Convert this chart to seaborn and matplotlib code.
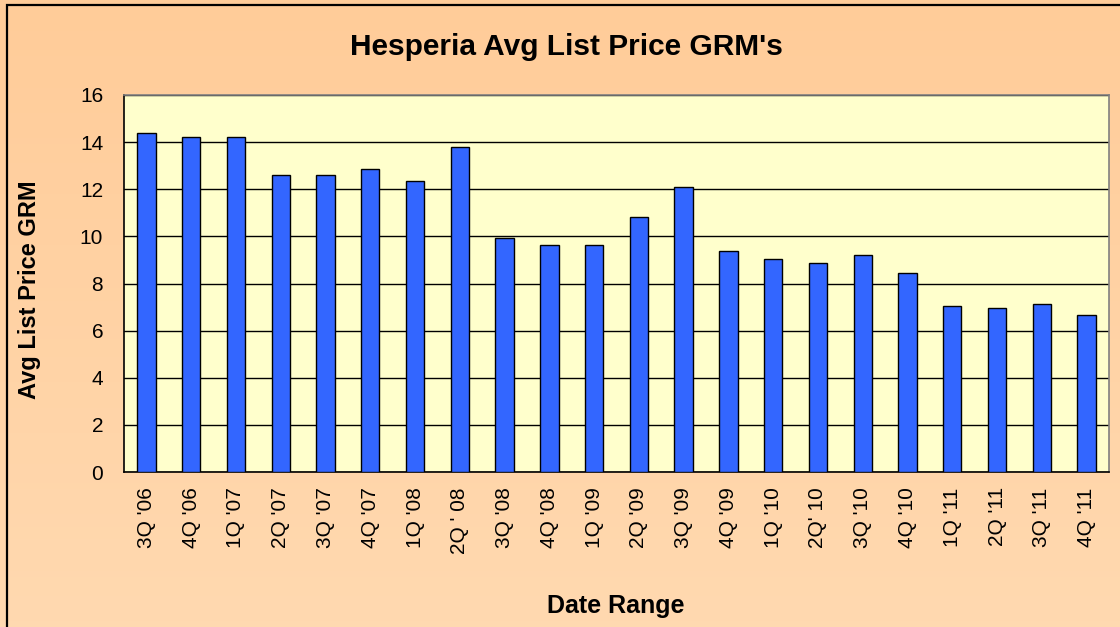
import numpy as np
import pandas as pd
import seaborn as sns
import matplotlib.pyplot as plt
from matplotlib.colors import LinearSegmentedColormap
from matplotlib.patches import Rectangle

quarters = ["3Q '06", "4Q '06", "1Q '07", "2Q '07", "3Q '07", "4Q '07", "1Q '08",
            "2Q ' 08", "3Q '08", "4Q '08", "1Q '09", "2Q '09", "3Q '09", "4Q '09",
            "1Q '10", "2Q' 10", "3Q '10", "4Q '10", "1Q '11", "2Q '11", "3Q '11", "4Q '11"]
grm = [14.4, 14.23, 14.23, 12.6, 12.6, 12.87, 12.36, 13.8, 9.92, 9.63, 9.63,
       10.84, 12.1, 9.38, 9.04, 8.87, 9.21, 8.45, 7.05, 6.95, 7.15, 6.65]
y_ticks = [0, 2, 4, 6, 8, 10, 12, 14, 16]

df = pd.DataFrame({"quarter": quarters, "grm": grm})

sns.set_theme(style="white")
plt.rcParams["font.family"] = ["Liberation Sans", "DejaVu Sans"]
plt.rcParams["text.color"] = "black"
plt.rcParams["xtick.color"] = "black"
plt.rcParams["ytick.color"] = "black"

fig = plt.figure(figsize=(11.2, 6.27), dpi=100)

# peach gradient background
bg = fig.add_axes([0, 0, 1, 1], zorder=-5)
cmap = LinearSegmentedColormap.from_list("peach", ["#FFCC99", "#FFD9B0"])
bg.imshow(np.linspace(0, 1, 100).reshape(-1, 1), aspect="auto", cmap=cmap,
          extent=[0, 1, 0, 1])
bg.set_axis_off()
fig.patches.append(Rectangle((7 / 1120, -0.1), 1.2, 1.1 - 5 / 627, transform=fig.transFigure,
                             fill=False, edgecolor="black", linewidth=1.6, zorder=10))

ax = fig.add_axes([124 / 1120, 155 / 627, 985 / 1120, 377 / 627])
ax.set_facecolor("#FFFFCC")
sns.barplot(data=df, x="quarter", y="grm", color="#3366FF", saturation=1,
            edgecolor="black", linewidth=1.0, width=0.41, ax=ax, zorder=3)

ax.set_ylim(0, 16)
ax.set_xlim(-0.5, len(quarters) - 0.5)
ax.set_yticks(y_ticks)
ax.set_yticklabels([str(v) for v in y_ticks])
ax.yaxis.grid(True, color="black", linewidth=1.0, zorder=0)
ax.set_axisbelow(True)

# category labels centred, tick marks between categories
ax.set_xticks(np.arange(len(quarters) + 1) - 0.5)
ax.set_xticklabels([])
ax.set_xticks(np.arange(len(quarters)), minor=True)
ax.set_xticklabels(quarters, minor=True)
ax.tick_params(axis="x", which="minor", length=0, pad=11, labelsize=15,
               labelrotation=90, labelcolor="black")
ax.tick_params(axis="x", which="major", length=4.5, width=1, color="black", direction="out")
ax.tick_params(axis="y", length=7, width=1, color="black", direction="out", pad=8,
               labelsize=15, labelcolor="black")

for side in ["left", "bottom"]:
    ax.spines[side].set_color("black")
    ax.spines[side].set_linewidth(1.2)
for side in ["top", "right"]:
    ax.spines[side].set_color("#808080")
    ax.spines[side].set_linewidth(1.2)

ax.set_xlabel("")
ax.set_ylabel("")
fig.text(566 / 1120, 1 - 47 / 627, "Hesperia Avg List Price GRM's", ha="center", va="center",
         fontsize=21.5, fontweight="bold")
fig.text(30 / 1120, 1 - 290 / 627, "Avg List Price GRM", ha="center", va="center",
         rotation=90, fontsize=17, fontweight="bold")
fig.text(616 / 1120, 1 - 606 / 627, "Date Range", ha="center", va="center",
         fontsize=18, fontweight="bold")

fig.savefig("out.png", dpi=100)
